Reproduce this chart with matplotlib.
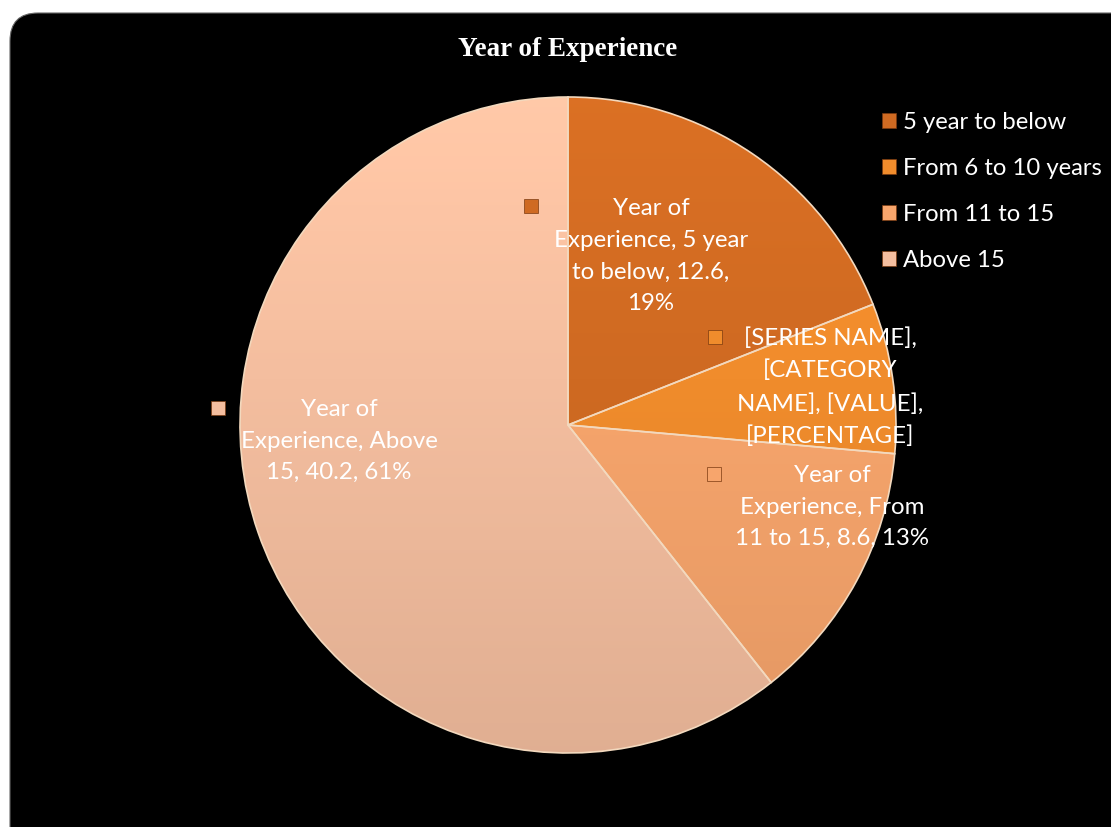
import numpy as np
import matplotlib.pyplot as plt
from matplotlib.patches import FancyBboxPatch, Patch
from matplotlib.colors import to_rgb

categories = ['5 year to below', 'From 6 to 10 years', 'From 11 to 15', 'Above 15']
values = [12.6, 4.9, 8.6, 40.2]
colors = ['#CF6A22', '#F08C2C', '#F7A56C', '#F4BE9F']
series_name = 'Year of Experience'

label_texts = [
    'Year of\nExperience, 5 year\nto below, 12.6,\n19%',
    '[SERIES NAME],\n[CATEGORY\nNAME], [VALUE],\n[PERCENTAGE]',
    'Year of\nExperience, From\n11 to 15, 8.6, 13%',
    'Year of\nExperience, Above\n15, 40.2, 61%',
]
# label centre and marker position, in pixels from top-left
label_pos = [(651, 256), (830, 387), (832, 507), (339, 441)]
marker_pos = [(531, 206), (715, 337), (714, 474), (218, 408)]

W, H = 1111, 827
fig = plt.figure(figsize=(W / 100, H / 100), dpi=100)
fig.patch.set_facecolor('white')
ax = fig.add_axes([0, 0, 1, 1])

# black rounded chart area
bg = FancyBboxPatch((10, -60), W + 60, H - 13 + 60,
                    boxstyle='round,pad=0,rounding_size=28',
                    facecolor='black', edgecolor='#666666', linewidth=0.8)
ax.add_patch(bg)

cx, cy, r = 568, H - 425, 328
wedges, _ = ax.pie(values, colors=colors, startangle=90, counterclock=False,
                   center=(cx, cy), radius=r, frame=True,
                   wedgeprops=dict(edgecolor='#F3D9BE', linewidth=1.2))
ax.set_xlim(0, W)
ax.set_ylim(0, H)
ax.set_aspect('equal')
ax.axis('off')

# soft vertical shading per slice
ys = np.linspace(1, 0, 200)[:, None]
for w, c in zip(wedges, colors):
    base = np.array(to_rgb(c))
    shade = 1.06 - 0.14 * (1 - ys)
    img = np.clip(base[None, None, :] * shade[:, :, None], 0, 1)
    img = np.repeat(img, 2, axis=1)
    im = ax.imshow(img, extent=(cx - r, cx + r, cy - r, cy + r), zorder=1.5,
                   aspect='auto')
    im.set_clip_path(w)
    w.set_facecolor('none')
    w.set_zorder(2)

ax.set_xlim(0, W)
ax.set_ylim(0, H)

ax.text(W / 2 + 12, H - 50, series_name, ha='center', va='center', color='white',
        fontsize=19.5, fontweight='bold', family='Liberation Serif')

for txt, (lx, ly), (mx, my), c in zip(label_texts, label_pos, marker_pos, colors):
    ax.text(lx, H - ly, txt, ha='center', va='center', color='white',
            fontsize=17.3, family='Lato', linespacing=1.63, zorder=3)
    ax.plot(mx, H - my, marker='s', markersize=10, color=c,
            markeredgecolor='#7a3a10', markeredgewidth=0.5, zorder=3)

handles = [Patch(facecolor=c, edgecolor='#7a3a10', linewidth=0.5) for c in colors]
leg = ax.legend(handles, categories, loc='upper left',
                bbox_to_anchor=(872 / W, 1 - 102 / H), frameon=False,
                labelcolor='white', prop=dict(family='Lato', size=17.2),
                handlelength=0.6, handleheight=0.6, handletextpad=0.3,
                labelspacing=1.05, borderaxespad=0)

fig.savefig('out.png', dpi=100, facecolor='white')
